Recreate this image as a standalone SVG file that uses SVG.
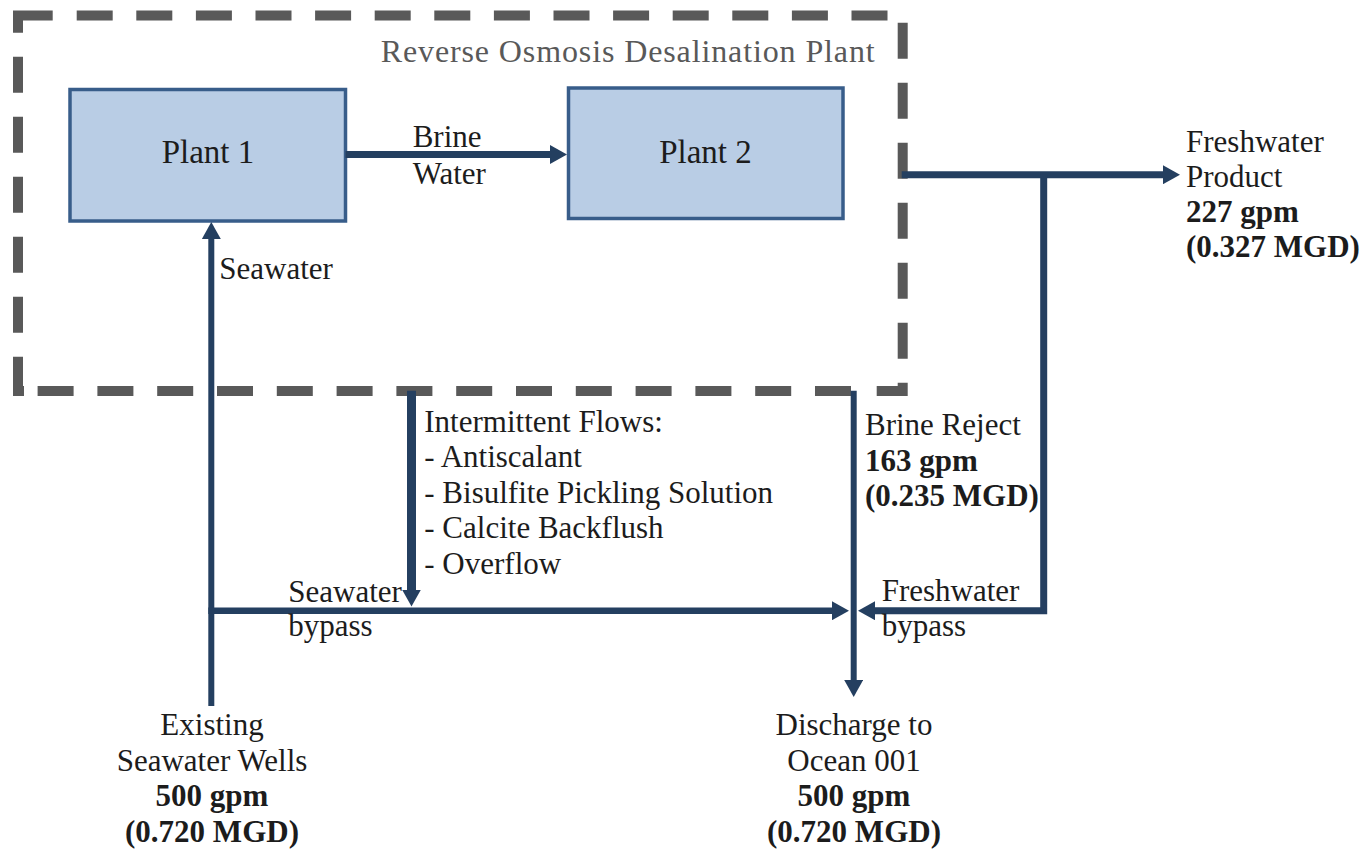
<svg xmlns="http://www.w3.org/2000/svg" width="1363" height="851" viewBox="0 0 1363 851">
  <style>
    .frame { fill: none; stroke: #595959; stroke-width: 10; stroke-linecap: butt; stroke-linejoin: miter; }
    .box { fill: #B9CDE5; stroke: #385D8A; stroke-width: 3.5; }
    .flow { fill: none; stroke: #243F60; stroke-linejoin: miter; stroke-linecap: butt; }
    text { font-family: "Liberation Serif", "Times New Roman", serif; font-size: 31px; fill: #1c1c1c; }
    .title { fill: #595959; font-size: 32px; }
    .plant { font-size: 33px; }
    .b { font-weight: bold; }
    .mid { text-anchor: middle; }
  </style>
  <defs>
    <marker id="arrow" viewBox="0 0 17 19" markerUnits="userSpaceOnUse" markerWidth="17" markerHeight="19" refX="1" refY="9.5" orient="auto">
      <path d="M0,0 L17,9.5 L0,19 Z" fill="#243F60"/>
    </marker>
  </defs>

  <!-- dashed plant boundary, one run per side plus corner pieces -->
  <g id="plant-boundary">
    <path class="frame" d="M18,32.7 V15.5 H52.7"/>
    <path class="frame" d="M76.7,15.5 H890" stroke-dasharray="36 23.6"/>
    <path class="frame" d="M902.7,22.7 V360" stroke-dasharray="36 24"/>
    <path class="frame" d="M902.7,382.7 V391 H876.7"/>
    <path class="frame" d="M37.6,391 H852" stroke-dasharray="36 23.8"/>
    <path class="frame" d="M18,56.7 V340" stroke-dasharray="36 24"/>
    <path class="frame" d="M18,356.7 V391 H24"/>
    <text class="title" x="380.7" y="62" textLength="494" lengthAdjust="spacing">Reverse Osmosis Desalination Plant</text>
  </g>

  <g id="plant1">
    <rect class="box" x="70" y="89.5" width="275.5" height="131.5"/>
    <text class="plant mid" x="208" y="163">Plant 1</text>
  </g>

  <g id="plant2">
    <rect class="box" x="568.5" y="88" width="274.5" height="130.5"/>
    <text class="plant mid" x="705.5" y="163">Plant 2</text>
  </g>

  <g id="seawater-wells">
    <text class="mid" x="212" y="735">Existing</text>
    <text class="mid" x="212" y="770.5">Seawater Wells</text>
    <text class="mid b" x="212" y="806">500 gpm</text>
    <text class="mid b" x="212" y="841.5">(0.720 MGD)</text>
  </g>

  <g id="ocean-discharge">
    <text class="mid" x="854" y="735">Discharge to</text>
    <text class="mid" x="854" y="770.5">Ocean 001</text>
    <text class="mid b" x="854" y="806">500 gpm</text>
    <text class="mid b" x="854" y="841.5">(0.720 MGD)</text>
  </g>

  <g id="freshwater-product">
    <text x="1186" y="152.3">Freshwater</text>
    <text x="1186" y="187">Product</text>
    <text class="b" x="1186" y="221.7">227 gpm</text>
    <text class="b" x="1186" y="256.5">(0.327 MGD)</text>
  </g>

  <g id="connectors">
    <!-- brine water from plant 1 to plant 2 -->
    <path class="flow" stroke-width="7" d="M345.5,154.5 H551" marker-end="url(#arrow)"/>
    <!-- seawater feed -->
    <path class="flow" stroke-width="6" d="M211.3,706 V238" marker-end="url(#arrow)"/>
    <!-- freshwater product -->
    <path class="flow" stroke-width="7" d="M901.7,174.7 H1164" marker-end="url(#arrow)"/>
    <!-- intermittent flows -->
    <path class="flow" stroke-width="9" d="M411.5,390.7 V590.5" marker-end="url(#arrow)"/>
    <!-- seawater bypass -->
    <path class="flow" stroke-width="6.5" d="M208.3,610.7 H833" marker-end="url(#arrow)"/>
    <!-- brine reject to ocean -->
    <path class="flow" stroke-width="6" d="M853.7,390.7 V681" marker-end="url(#arrow)"/>
    <!-- freshwater bypass -->
    <path class="flow" stroke-width="7" d="M1043.7,174.7 V610.7 H874" marker-end="url(#arrow)"/>
  </g>

  <g id="flow-labels">
    <text x="412.7" y="147.3">Brine</text>
    <text x="412.7" y="184">Water</text>
    <text x="219.3" y="279.3">Seawater</text>
    <text x="424.3" y="431.7">Intermittent Flows:</text>
    <text x="424.3" y="467.2">- Antiscalant</text>
    <text x="424.3" y="502.7">- Bisulfite Pickling Solution</text>
    <text x="424.3" y="538.2">- Calcite Backflush</text>
    <text x="424.3" y="573.7">- Overflow</text>
    <text x="288.3" y="601.5">Seawater</text>
    <text x="288.3" y="636">bypass</text>
    <text x="865" y="435">Brine Reject</text>
    <text class="b" x="865" y="470.5">163 gpm</text>
    <text class="b" x="865" y="506">(0.235 MGD)</text>
    <text x="881.7" y="601">Freshwater</text>
    <text x="881.7" y="636">bypass</text>
  </g>
</svg>
